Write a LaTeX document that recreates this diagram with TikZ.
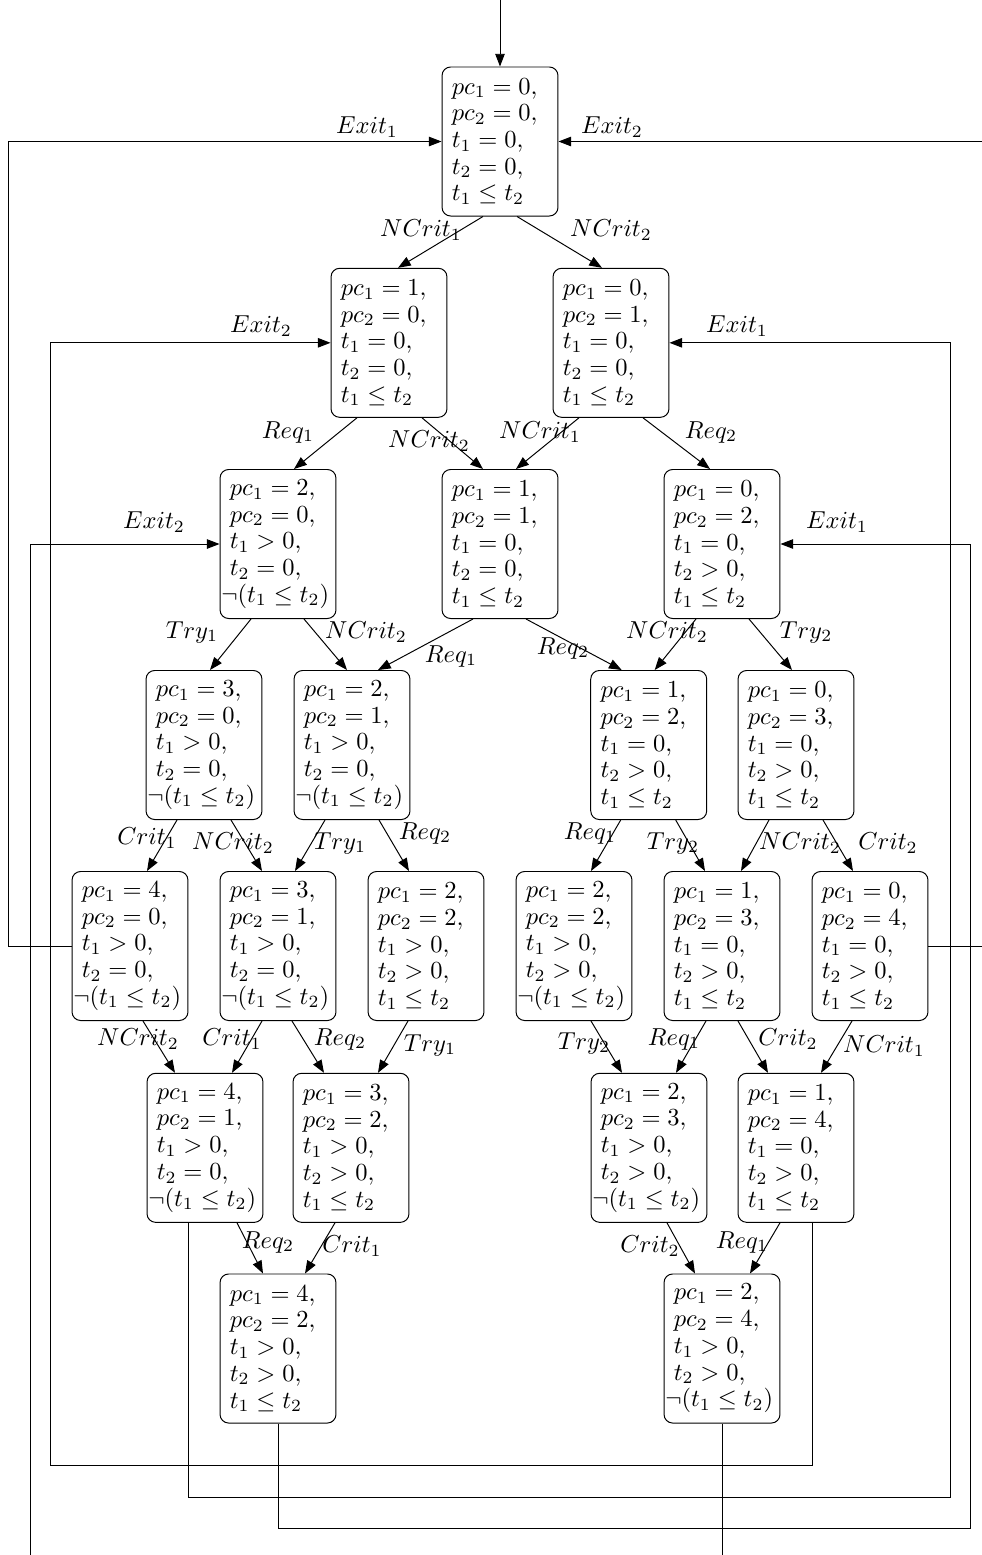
\documentclass[tikz,border=0pt]{standalone}
\usetikzlibrary{arrows.meta,calc}
\newcommand\stl[5]{$pc_1=#1,$\\ $pc_2=#2,$\\ $t_1#30,$\\ $t_2#40,$\\ #5}
\newcommand\okl{\mbox{$t_1\leq t_2$}}
\newcommand\ngl{\hspace*{-3.5pt}\mbox{$\neg(t_1\leq t_2)$}}
\begin{document}
\begin{tikzpicture}[x=0.408pt,y=-0.408pt,
  state/.style={draw, rounded corners=3.5pt, minimum height=60.8pt, text width=39.3pt,
    inner xsep=4pt, inner ysep=0pt, align=left, font=\fontsize{10pt}{10.9pt}\selectfont},
  arr/.style={-{Triangle[length=5.2pt,width=3.9pt]}, line width=0.4pt},
  wire/.style={line width=0.4pt},
  lbl/.style={inner sep=0pt, font=\fontsize{10pt}{12pt}\selectfont}]
\useasboundingbox (0,0) rectangle (982,1555);
% states
\node[state] (n0)  at (500,141.5) {\stl{0}{0}{=}{=}{\okl}};
\node[state] (n10) at (389,342.8) {\stl{1}{0}{=}{=}{\okl}};
\node[state] (n11) at (611,342.8) {\stl{0}{1}{=}{=}{\okl}};
\node[state] (n20) at (278,544) {\stl{2}{0}{>}{=}{\ngl}};
\node[state] (n21) at (500,544) {\stl{1}{1}{=}{=}{\okl}};
\node[state] (n22) at (722,544) {\stl{0}{2}{=}{>}{\okl}};
\node[state] (n30) at (204,745) {\stl{3}{0}{>}{=}{\ngl}};
\node[state] (n31) at (352,745) {\stl{2}{1}{>}{=}{\ngl}};
\node[state] (n32) at (648.7,745) {\stl{1}{2}{=}{>}{\okl}};
\node[state] (n33) at (796,745) {\stl{0}{3}{=}{>}{\okl}};
\node[state] (n40) at (130,946) {\stl{4}{0}{>}{=}{\ngl}};
\node[state] (n41) at (278,946) {\stl{3}{1}{>}{=}{\ngl}};
\node[state] (n42) at (426,946) {\stl{2}{2}{>}{>}{\okl}};
\node[state] (n43) at (574,946) {\stl{2}{2}{>}{>}{\ngl}};
\node[state] (n44) at (722,946) {\stl{1}{3}{=}{>}{\okl}};
\node[state] (n45) at (870,946) {\stl{0}{4}{=}{>}{\okl}};
\node[state] (n50) at (205,1147.8) {\stl{4}{1}{>}{=}{\ngl}};
\node[state] (n51) at (351,1147.8) {\stl{3}{2}{>}{>}{\okl}};
\node[state] (n52) at (649,1147.8) {\stl{2}{3}{>}{>}{\ngl}};
\node[state] (n53) at (796,1147.8) {\stl{1}{4}{=}{>}{\okl}};
\node[state] (n60) at (278,1348.5) {\stl{4}{2}{>}{>}{\okl}};
\node[state] (n61) at (722,1348.5) {\stl{2}{4}{>}{>}{\ngl}};
% tree edges
\draw[arr] ($(n0.south)+(-17,0)$) -- ($(n10.north)+(9,0)$);
\draw[arr] ($(n0.south)+(17,0)$) -- ($(n11.north)+(-9,0)$);
\draw[arr] ($(n10.south)+(-32,0)$) -- ($(n20.north)+(16,0)$);
\draw[arr] ($(n10.south)+(33,0)$) -- ($(n21.north)+(-17,0)$);
\draw[arr] ($(n11.south)+(-32,0)$) -- ($(n21.north)+(16,0)$);
\draw[arr] ($(n11.south)+(32,0)$) -- ($(n22.north)+(-12,0)$);
\draw[arr] ($(n20.south)+(-27,0)$) -- ($(n30.north)+(6,0)$);
\draw[arr] ($(n20.south)+(26,0)$) -- ($(n31.north)+(-5,0)$);
\draw[arr] ($(n21.south)+(-27,0)$) -- ($(n31.north)+(26,0)$);
\draw[arr] ($(n21.south)+(26,0)$) -- ($(n32.north)+(-27,0)$);
\draw[arr] ($(n22.south)+(-26,0)$) -- ($(n32.north)+(6,0)$);
\draw[arr] ($(n22.south)+(27,0)$) -- ($(n33.north)+(-4,0)$);
\draw[arr] ($(n30.south)+(-27,0)$) -- ($(n40.north)+(17,0)$);
\draw[arr] ($(n30.south)+(27,0)$) -- ($(n41.north)+(-16,0)$);
\draw[arr] ($(n31.south)+(-27,0)$) -- ($(n41.north)+(17,0)$);
\draw[arr] ($(n31.south)+(27,0)$) -- ($(n42.north)+(-17,0)$);
\draw[arr] ($(n32.south)+(-28,0)$) -- ($(n43.north)+(17,0)$);
\draw[arr] ($(n32.south)+(27,0)$) -- ($(n44.north)+(-17,0)$);
\draw[arr] ($(n33.south)+(-27,0)$) -- ($(n44.north)+(19,0)$);
\draw[arr] ($(n33.south)+(27,0)$) -- ($(n45.north)+(-17,0)$);
\draw[arr] ($(n40.south)+(13,0)$) -- ($(n50.north)+(-30,0)$);
\draw[arr] ($(n41.south)+(-16,0)$) -- ($(n50.north)+(27,0)$);
\draw[arr] ($(n41.south)+(14,0)$) -- ($(n51.north)+(-27,0)$);
\draw[arr] ($(n42.south)+(-18,0)$) -- ($(n51.north)+(27,0)$);
\draw[arr] ($(n43.south)+(17,0)$) -- ($(n52.north)+(-27,0)$);
\draw[arr] ($(n44.south)+(-16,0)$) -- ($(n52.north)+(27,0)$);
\draw[arr] ($(n44.south)+(16,0)$) -- ($(n53.north)+(-28,0)$);
\draw[arr] ($(n45.south)+(-18,0)$) -- ($(n53.north)+(25,0)$);
\draw[arr] ($(n50.south)+(32,0)$) -- ($(n60.north)+(-15,0)$);
\draw[arr] ($(n51.south)+(-16,0)$) -- ($(n60.north)+(27,0)$);
\draw[arr] ($(n52.south)+(18,0)$) -- ($(n61.north)+(-27,0)$);
\draw[arr] ($(n53.south)+(-16,0)$) -- ($(n61.north)+(28,0)$);
% routing coordinates
\coordinate (cI) at (500,-5);
\coordinate (cA) at (8,141.5);
\coordinate (cB) at (985,141.5);
\coordinate (cC) at (50,1465);
\coordinate (cD) at (950,1497);
\coordinate (cE) at (970,1528);
\coordinate (cF) at (722,1562);
\coordinate (cG) at (30,1562);
% loop edges
\draw[arr] (cI) -- (n0.north);
\draw[arr] (n40.west) -| (cA) -- (n0.west);
\draw[arr] (n45.east) -| (cB) -- (n0.east);
\draw[arr] ($(n53.south)+(16,0)$) |- (cC) |- (n10.west);
\draw[arr] ($(n50.south)+(-17,0)$) |- (cD) |- (n11.east);
\draw[arr] (n60.south) |- (cE) |- (n22.east);
\draw[wire] (n61.south) -- (cF);
\draw[arr] (cG) |- (n20.west);
% labels
\node[lbl] (l01) at (367,127) {$Exit_1$};
\node[lbl] (l02) at (612,127) {$Exit_2$};
\node[lbl] (l03) at (421,230) {$NCrit_1$};
\node[lbl] (l04) at (611,230) {$NCrit_2$};
\node[lbl] (l05) at (261,326) {$Exit_2$};
\node[lbl] (l06) at (737,326) {$Exit_1$};
\node[lbl] (l07) at (288,432) {$Req_1$};
\node[lbl] (l08) at (429,441) {$NCrit_2$};
\node[lbl] (l09) at (540,432) {$NCrit_1$};
\node[lbl] (l10) at (711,432) {$Req_2$};
\node[lbl] (l11) at (154,522) {$Exit_2$};
\node[lbl] (l12) at (837,522) {$Exit_1$};
\node[lbl] (l13) at (192,632) {$Try_1$};
\node[lbl] (l14) at (366,632) {$NCrit_2$};
\node[lbl] (l15) at (451,656) {$Req_1$};
\node[lbl] (l16) at (563,648) {$Req_2$};
\node[lbl] (l17) at (667,632) {$NCrit_2$};
\node[lbl] (l18) at (806,632) {$Try_2$};
\node[lbl] (l19) at (147,838) {$Crit_1$};
\node[lbl] (l20) at (233,843) {$NCrit_2$};
\node[lbl] (l21) at (340,843) {$Try_1$};
\node[lbl] (l22) at (425,833) {$Req_2$};
\node[lbl] (l23) at (590,833) {$Req_1$};
\node[lbl] (l24) at (673,843) {$Try_2$};
\node[lbl] (l25) at (800,843) {$NCrit_2$};
\node[lbl] (l26) at (888,843) {$Crit_2$};
\node[lbl] (l27) at (138,1039) {$NCrit_2$};
\node[lbl] (l28) at (232,1039) {$Crit_1$};
\node[lbl] (l29) at (340,1039) {$Req_2$};
\node[lbl] (l30) at (430,1045) {$Try_1$};
\node[lbl] (l31) at (584,1043) {$Try_2$};
\node[lbl] (l32) at (674,1039) {$Req_1$};
\node[lbl] (l33) at (788,1039) {$Crit_2$};
\node[lbl] (l34) at (884,1046) {$NCrit_1$};
\node[lbl] (l35) at (268,1242) {$Req_2$};
\node[lbl] (l36) at (352,1246) {$Crit_1$};
\node[lbl] (l37) at (650,1246) {$Crit_2$};
\node[lbl] (l38) at (742,1242) {$Req_1$};
\end{tikzpicture}
\end{document}
